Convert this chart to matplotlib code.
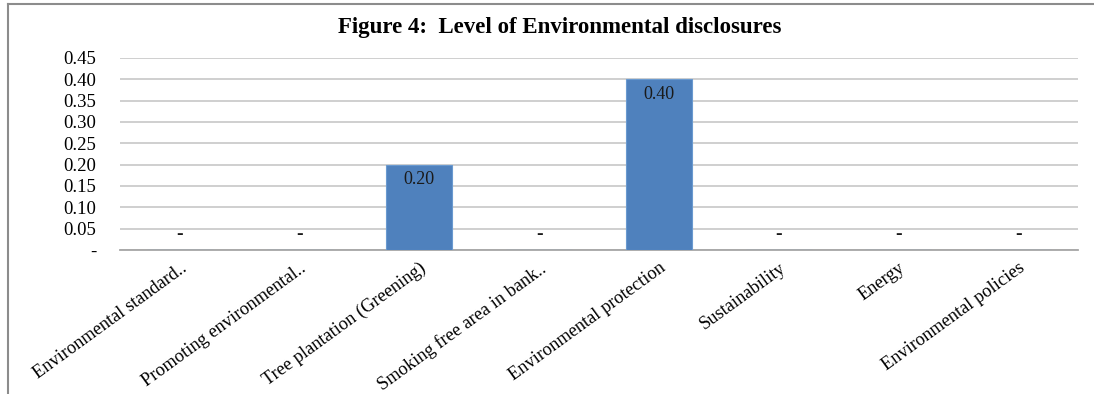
import matplotlib.pyplot as plt
from matplotlib.lines import Line2D

categories = ["Environmental standard..", "Promoting environmental..", "Tree plantation (Greening)",
              "Smoking free area in bank..", "Environmental protection", "Sustainability",
              "Energy", "Environmental policies"]
values = [0.0, 0.0, 0.20, 0.0, 0.40, 0.0, 0.0, 0.0]
yticks = [0, 0.05, 0.10, 0.15, 0.20, 0.25, 0.30, 0.35, 0.40, 0.45]

plt.rcParams['font.family'] = ['Liberation Serif', 'DejaVu Serif']

fig = plt.figure(figsize=(10.94, 3.94), dpi=100)
ax = fig.add_axes([120/1094, 1 - 250/394, (1078-120)/1094, (250-58)/394])

x = range(len(categories))
ax.bar(x, values, width=0.55, color='#4F81BD', edgecolor='#6a9ad0', linewidth=0.8, zorder=3)

for xi, v in zip(x, values):
    if v > 0:
        ax.annotate(f"{v:.2f}", (xi, v), xytext=(0, -11), textcoords='offset points',
                    ha='center', va='center', fontsize=13, color='#1a1a1a', zorder=4)
    else:
        ax.annotate("-", (xi, v), xytext=(0, 11), textcoords='offset points',
                    ha='center', va='center', fontsize=14, fontweight='bold',
                    color='#1a1a1a', zorder=4)

ax.set_ylim(0, 0.45)
ax.set_xlim(-0.5, len(categories) - 0.5)
ax.set_yticks(yticks)
ax.set_yticklabels(["-"] + [f"{t:.2f}" for t in yticks[1:]], fontsize=13.5)
ax.set_xticks(list(x))
ax.set_xticklabels(categories, rotation=36, ha='right', rotation_mode='anchor', fontsize=13.2)
ax.tick_params(axis='y', length=0, pad=17)
ax.tick_params(axis='x', length=0, pad=7)

ax.grid(axis='y', color='#cfcfcf', linewidth=1.4, zorder=0)
for s in ['left', 'right', 'top']:
    ax.spines[s].set_visible(False)
ax.spines['bottom'].set_color('#a6a6a6')
ax.spines['bottom'].set_linewidth(1.3)

fig.text(560/1094, 1 - 28/394, "Figure 4:  Level of Environmental disclosures",
         ha='center', va='center', fontsize=16.5, fontweight='bold')

# outer frame
fig.add_artist(Line2D([8/1094, 8/1094], [0, 1 - 4/394], color='#8c8c8c', linewidth=1.5))
fig.add_artist(Line2D([8/1094, 1], [1 - 4/394, 1 - 4/394], color='#8c8c8c', linewidth=1.5))

fig.savefig("out.png", dpi=100)
